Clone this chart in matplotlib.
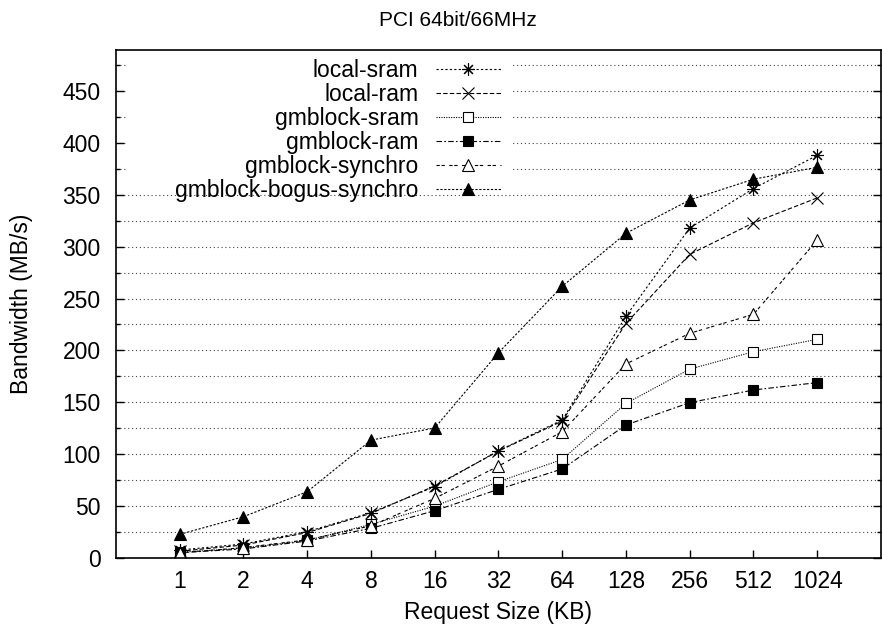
import matplotlib
matplotlib.use("Agg")
import matplotlib.pyplot as plt
import numpy as np
from matplotlib.patches import Rectangle
from matplotlib.ticker import MultipleLocator

plt.rcParams["font.family"] = ["Liberation Sans", "DejaVu Sans"]

sizes = ["1", "2", "4", "8", "16", "32", "64", "128", "256", "512", "1024"]

local_sram = [7.7, 13.5, 25.4, 43.7, 68.7, 103.4, 133, 233, 318, 356, 388]
local_ram = [6.5, 12.5, 24.5, 43.0, 69.5, 103.0, 132, 226, 292.6, 323, 347]
gmblock_sram = [5.5, 9.5, 17.0, 32.4, 50.0, 73.5, 95, 149, 182, 198.8, 210.7]
gmblock_ram = [5.1, 8.7, 16.4, 28.6, 45.6, 66.2, 85.8, 128.2, 149.7, 161.9, 169]
gmblock_synchro = [5.0, 10.0, 17.5, 31.0, 57.5, 88.6, 121.7, 187, 216.5, 234.8, 306.4]
gmblock_bogus_synchro = [22.8, 39.8, 63.9, 113.6, 125.3, 197.8, 261.8, 312.9, 345, 365, 376.5]

series = [
    ("local-sram", local_sram, dict(marker=(8, 2, 0), ms=9, mfc="black", dashes=(2, 2))),
    ("local-ram", local_ram, dict(marker="x", ms=8, dashes=(4, 2))),
    ("gmblock-sram", gmblock_sram, dict(marker="s", ms=7.5, mfc="white", dashes=(1, 1.2))),
    ("gmblock-ram", gmblock_ram, dict(marker="s", ms=7.5, mfc="black", dashes=(5, 2, 1.5, 2))),
    ("gmblock-synchro", gmblock_synchro, dict(marker="^", ms=8, mfc="white", dashes=(3, 1.5, 3, 4))),
    ("gmblock-bogus-synchro", gmblock_bogus_synchro, dict(marker="^", ms=8, mfc="black", dashes=(2, 1.5))),
]

fig = plt.figure(figsize=(8.82, 6.29), dpi=100)
ax = fig.add_axes([116 / 882, 1 - 558 / 629, 765 / 882, 508 / 629])

x = np.arange(len(sizes))
for label, values, style in series:
    ax.plot(x, values, color="black", lw=0.8, mec="black", mew=0.8, label=label, **style)

ax.set_xlim(-1, 11)
ax.set_ylim(0, 489.5)
ax.set_xticks(x)
ax.set_xticklabels(sizes)
ax.yaxis.set_major_locator(MultipleLocator(50))
ax.yaxis.set_minor_locator(MultipleLocator(25))
ax.tick_params(axis="both", which="major", direction="in", length=6, width=1, labelsize=16.5)
ax.tick_params(axis="x", pad=9)
ax.tick_params(axis="y", pad=11)
ax.tick_params(axis="y", which="both", left=True, right=True)
ax.tick_params(axis="y", which="minor", direction="in", length=3, width=1)
ax.tick_params(axis="x", top=False)
ax.grid(axis="y", which="both", color="#444444", lw=0.8, linestyle=(0, (1, 2.5)))
ax.set_axisbelow(True)
for spine in ax.spines.values():
    spine.set_linewidth(1.2)

ax.set_xlabel("Request Size (KB)", fontsize=16.5)
ax.xaxis.set_label_coords(0.5, -(612 - 558) / 508)
ax.xaxis.label.set_va("center")
ax.set_ylabel("Bandwidth (MB/s)", fontsize=16.5)
ax.yaxis.set_label_coords(-(116 - 22) / 765, 0.5)
ax.yaxis.label.set_va("center")
fig.text(458 / 882, 1 - 21 / 629, "PCI 64bit/66MHz", fontsize=15, ha="center", va="center")

# white key box that hides the grid behind the legend
ax.add_patch(Rectangle(((128 - 116) / 765, (558 - 181) / 508), (512 - 128) / 765, (181 - 51) / 508,
                       transform=ax.transAxes, facecolor="white", edgecolor="none", zorder=1))

leg = ax.legend(loc="upper right", bbox_to_anchor=((501 - 116) / 765, (558 - 59) / 508),
                bbox_transform=ax.transAxes, markerfirst=False, fontsize=16.5,
                handlelength=2.85, handletextpad=0.75, labelspacing=0.04,
                borderpad=0, borderaxespad=0, frameon=False)
try:
    leg._legend_box._children[-1]._children[0].align = "right"
except Exception:
    pass

fig.savefig("out.png", dpi=100)
